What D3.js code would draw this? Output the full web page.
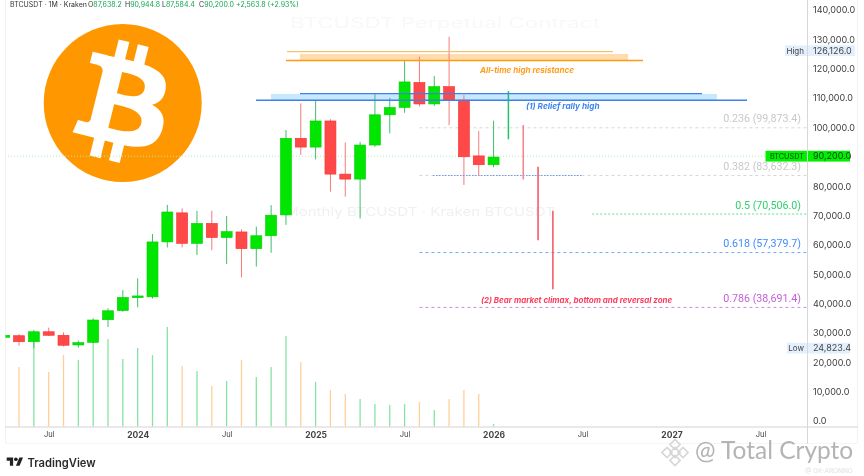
<!DOCTYPE html>
<html>
<head>
<meta charset="utf-8">
<title>BTCUSDT monthly</title>
<script src="https://d3js.org/d3.v7.min.js"></script>
<style>
  html, body { margin: 0; padding: 0; background: #fff; }
  svg { display: block; font-family: Inter, "Noto Sans", sans-serif; filter: blur(0.35px); }
  .axis path, .axis line { display: none; }
</style>
</head>
<body>
<div id="chart"></div>
<script>
// Monthly candles, April 2023 to January 2026 (index 0 = Apr 2023)
var opens  = [28500,29050,27000,30400,29200,25900,26800,34500,37600,42000,42300,61000,70900,60500,67300,62500,64400,58700,63100,70200,96300,93300,102200,84100,82400,94000,104300,106800,115300,108000,113900,109300,90300,87300];
var highs  = [29800,29600,31000,31800,30200,27400,35000,38400,44600,48600,63700,73600,72400,71600,71600,69800,65300,66200,73500,99100,108200,109100,102800,94900,95100,111600,110100,123000,124100,117500,130900,111000,98800,102300];
var lows   = [27500,25650,24800,29000,25400,25000,26500,32000,37200,38700,41700,59100,59100,56500,58200,53500,48900,52600,57300,66800,90600,89100,78100,76400,69000,93400,98000,105000,107100,107300,100800,80400,83600,86400];
var closes = [29200,27000,30400,29200,25800,26700,34400,37550,42100,42600,61000,71200,60500,67300,62500,64500,58700,63100,70100,96300,93300,102200,84100,82400,94000,104300,106800,115500,108000,113900,109300,90000,87300,89900];
var volumes = [60,60,88,55,72,67,88,88,68,79,72,100,61,56,41,46,67,50,60,91,65,45,37,33,28,23,22,23,25,17,28,37,33,3];

// Projected path drawn after the last candle
var projIndex = [34,35,36,37];
var projHigh  = [112400,100800,86600,71600];
var projLow   = [96000,82300,61600,44900];

// Axes
var priceTicks = [0,10000,20000,30000,40000,50000,60000,70000,80000,90000,100000,110000,120000,130000,140000];
var timeTicks  = [3,9,15,21,27,33,39,45,51];
var timeLabels = ["Jul","2024","Jul","2025","Jul","2026","Jul","2027","Jul"];
var yearLabels = ["2024","2025","2026","2027"];

// Fibonacci levels
var fibPrices = [99873.4,83632.3,70506.0,57379.7,38691.4];
var fibLabels = ["0.236 (99,873.4)","0.382 (83,632.3)","0.5 (70,506.0)","0.618 (57,379.7)","0.786 (38,691.4)"];
var fibColors = ["#c9c9c9","#c9c9c9","#2fd16f","#3f8cff","#c45fd8"];

var high = 126126.0, low = 24823.4, last = 90200.0;

var width = 864, height = 476;
var green = "#00e600", red = "#ff4848";

var svg = d3.select("#chart").append("svg")
    .attr("width", width)
    .attr("height", height);

var x = d3.scaleLinear().domain([0, 51]).range([4.2, 760.5]);
var y = d3.scaleLinear().domain([0, 140000]).range([421, 10]);
var vol = d3.scaleLinear().domain([0, 100]).range([427, 327]);
var fmt = d3.format(",.1f");

svg.append("clipPath").attr("id", "pane")
    .append("rect").attr("x", 5.5).attr("y", 0).attr("width", 802).attr("height", 427);

// Logo sits behind everything
var logo = svg.append("g");
logo.append("circle").attr("cx", 122.7).attr("cy", 103).attr("r", 79).attr("fill", "#ff9800");
logo.append("path")
    .attr("transform", "translate(122.7,103) scale(3.05) translate(-32,-32)")
    .attr("fill", "#fff")
    .attr("d", "M46.11 27.441c.636-4.258-2.606-6.547-7.039-8.074l1.438-5.768-3.512-.875-1.4 5.616c-.922-.23-1.87-.447-2.812-.662l1.41-5.653-3.509-.875-1.439 5.766c-.764-.174-1.514-.346-2.242-.527l.004-.018-4.842-1.209-.934 3.75s2.605.597 2.55.634c1.422.355 1.68 1.296 1.636 2.042l-1.638 6.571c.098.025.225.061.365.117l-.37-.092-2.297 9.205c-.174.432-.615 1.08-1.609.834.035.051-2.552-.637-2.552-.637l-1.743 4.02 4.57 1.139c.85.213 1.683.436 2.502.646l-1.453 5.835 3.507.875 1.44-5.772c.957.26 1.887.5 2.797.726L27.504 50.8l3.511.875 1.453-5.823c5.987 1.133 10.49.676 12.383-4.738 1.527-4.36-.075-6.875-3.225-8.516 2.294-.531 4.022-2.04 4.483-5.157zM38.087 38.69c-1.086 4.36-8.426 2.004-10.807 1.412l1.928-7.729c2.38.594 10.011 1.77 8.88 6.317zm1.085-11.312c-.99 3.966-7.1 1.951-9.083 1.457l1.748-7.01c1.983.494 8.367 1.416 7.335 5.553z");

// Pane frame
svg.append("line").attr("x1", 5.5).attr("x2", 5.5).attr("y1", 0).attr("y2", 443).attr("stroke", "#f2f2f2");
svg.append("line").attr("x1", 857.5).attr("x2", 857.5).attr("y1", 0).attr("y2", 443).attr("stroke", "#f2f2f2");
svg.append("line").attr("x1", 5).attr("x2", 858).attr("y1", 443.5).attr("y2", 443.5).attr("stroke", "#f5f5f5");

// Faint ghost watermark behind the candles
svg.append("text").attr("x", 285).attr("y", 216).attr("font-size", 12).attr("fill", "#f0f0f0")
    .attr("textLength", 270).attr("lengthAdjust", "spacingAndGlyphs").text("Monthly BTCUSDT · Kraken BTCUSDT");
svg.append("text").attr("x", 290).attr("y", 28).attr("font-size", 14).attr("fill", "#f8f8f8")
    .attr("textLength", 310).attr("lengthAdjust", "spacingAndGlyphs").text("BTCUSDT Perpetual Contract");

var pane = svg.append("g").attr("clip-path", "url(#pane)");

// Volume
pane.selectAll(".vol").data(volumes).enter().append("line")
    .attr("class", "vol")
    .attr("x1", function(d, i) { return x(i); })
    .attr("x2", function(d, i) { return x(i); })
    .attr("y1", vol(0))
    .attr("y2", function(d) { return vol(d); })
    .attr("stroke-width", 1.3)
    .attr("stroke", function(d, i) { return closes[i] >= opens[i] ? "#86e3a4" : "#ffcf98"; });

// Resistance bands
pane.append("rect").attr("x", 300).attr("width", 328).attr("y", y(125000)).attr("height", y(122800) - y(125000)).attr("fill", "#ffdcae");
pane.append("rect").attr("x", 271).attr("width", 446).attr("y", y(111400)).attr("height", y(109100) - y(111400)).attr("fill", "#c8e9fb");

// Current price line
pane.append("line").attr("x1", 5).attr("x2", 766).attr("y1", y(last)).attr("y2", y(last))
    .attr("stroke", "#a8ecb4").attr("stroke-width", 1).attr("stroke-dasharray", "1 2");

// Fib lines
var fibStart = [28, 28, 39.65, 28, 28];
pane.selectAll(".fib").data(fibPrices).enter().append("line")
    .attr("class", "fib")
    .attr("x1", function(d, i) { return x(fibStart[i]); })
    .attr("x2", 807)
    .attr("y1", function(d) { return y(d); })
    .attr("y2", function(d) { return y(d); })
    .attr("stroke", function(d, i) { return fibColors[i]; })
    .attr("stroke-opacity", 0.75)
    .attr("stroke-dasharray", function(d, i) { return i == 2 ? "2 2" : "3 3"; });
pane.append("line").attr("x1", 433).attr("x2", 583).attr("y1", y(83632.3)).attr("y2", y(83632.3))
    .attr("stroke", "#6a9cf0").attr("stroke-width", 1.2).attr("stroke-dasharray", "1.5 1.5");

svg.selectAll(".fibLabel").data(fibLabels).enter().append("text")
    .attr("class", "fibLabel")
    .attr("x", 801)
    .attr("y", function(d, i) { return y(fibPrices[i]) - 5.5; })
    .attr("text-anchor", "end")
    .attr("font-size", 10.7)
    .attr("font-family", "Roboto")
    .attr("fill", function(d, i) { return fibColors[i]; })
    .text(function(d) { return d; });

// Wicks and bodies
var idx = d3.range(opens.length);
pane.selectAll(".wick").data(idx).enter().append("line")
    .attr("class", "wick")
    .attr("x1", function(i) { return x(i); })
    .attr("x2", function(i) { return x(i); })
    .attr("y1", function(i) { return y(highs[i]); })
    .attr("y2", function(i) { return y(lows[i]); })
    .attr("stroke-width", 1)
    .attr("stroke", function(i) { return closes[i] >= opens[i] ? "#3fbf6a" : "#f77a7a"; });
pane.selectAll(".body").data(idx).enter().append("rect")
    .attr("class", "body")
    .attr("x", function(i) { return x(i) - 5.5; })
    .attr("width", 11)
    .attr("y", function(i) { return y(Math.max(opens[i], closes[i])); })
    .attr("height", function(i) { return Math.max(1, Math.abs(y(opens[i]) - y(closes[i]))); })
    .attr("fill", function(i) { return closes[i] >= opens[i] ? green : red; })
    .attr("stroke", function(i) { return closes[i] >= opens[i] ? "#00d000" : "#f83030"; })
    .attr("stroke-width", 0.6);

// Projected bars
pane.selectAll(".proj").data(projIndex).enter().append("line")
    .attr("class", "proj")
    .attr("x1", function(d) { return x(d); })
    .attr("x2", function(d) { return x(d); })
    .attr("y1", function(d, i) { return y(projHigh[i]); })
    .attr("y2", function(d, i) { return y(projLow[i]); })
    .attr("stroke-width", 1.5)
    .attr("stroke", function(d, i) { return i == 0 ? "#1fc463" : i == 1 ? "#f8808a" : "#f4525f"; });

// Resistance lines on top of the candles
pane.append("line").attr("x1", 286).attr("x2", 643).attr("y1", y(122800)).attr("y2", y(122800)).attr("stroke", "#ff9a12").attr("stroke-width", 1.6);
pane.append("line").attr("x1", 287).attr("x2", 613).attr("y1", y(125800)).attr("y2", y(125800)).attr("stroke", "#f7b24c").attr("stroke-width", 1);
pane.append("line").attr("x1", 256).attr("x2", 747).attr("y1", y(109300)).attr("y2", y(109300)).attr("stroke", "#3f7fee").attr("stroke-width", 1.5);
pane.append("line").attr("x1", 300).attr("x2", 702).attr("y1", y(111500)).attr("y2", y(111500)).attr("stroke", "#3f7fee").attr("stroke-width", 1.2);

// Notes
function note(px, py, str, colour, size) {
    svg.append("text").attr("x", px).attr("y", py)
        .attr("font-size", size).attr("font-weight", 700).attr("font-style", "italic")
        .attr("fill", colour).text(str);
}
note(480, 72.5, "All-time high resistance", "#ff9d1e", 8.05);
note(526, 109, "(1) Relief rally high", "#3d84f0", 8.2);
note(481, 303, "(2) Bear market climax, bottom and reversal zone", "#ff3b5c", 7.95);

// Axes
svg.append("line").attr("x1", 5).attr("x2", 858).attr("y1", 427).attr("y2", 427).attr("stroke", "#e2e2e2").attr("stroke-width", 1.5);
svg.append("line").attr("x1", 807.5).attr("x2", 807.5).attr("y1", 0).attr("y2", 444).attr("stroke", "#d8d8d8");

svg.append("g").attr("class", "axis")
    .attr("transform", "translate(807,0)")
    .call(d3.axisRight(y).tickValues(priceTicks).tickFormat(fmt).tickSize(0).tickPadding(6))
    .selectAll("text").attr("font-size", 9).attr("font-family", "Inter").attr("fill", "#3c3c3c");

var xAxis = svg.append("g").attr("class", "axis")
    .attr("transform", "translate(0,430)")
    .call(d3.axisBottom(x).tickValues(timeTicks).tickFormat(function(d) { return timeLabels[timeTicks.indexOf(d)]; }).tickSize(0).tickPadding(2));
xAxis.selectAll("text")
    .attr("font-size", function(d, i) { return yearLabels.indexOf(timeLabels[i]) >= 0 ? 8.5 : 7.5; })
    .attr("font-family", "Inter")
    .attr("font-weight", function(d, i) { return yearLabels.indexOf(timeLabels[i]) >= 0 ? 700 : 400; })
    .attr("fill", "#444");

// Price tags
function tag(x0, x1, value, name, fill, ink, size) {
    svg.append("rect").attr("x", x0).attr("width", x1 - x0).attr("y", y(value) - 5.4).attr("height", 10.8).attr("fill", fill);
    svg.append("line").attr("x1", 807.5).attr("x2", 807.5).attr("y1", y(value) - 5.4).attr("y2", y(value) + 5.4).attr("stroke", "#d8d8d8");
    svg.append("text").attr("x", 804).attr("y", y(value) + 3.2).attr("text-anchor", "end").attr("font-size", size).attr("fill", ink).text(name);
    svg.append("text").attr("x", 813).attr("y", y(value) + 3.2).attr("font-size", 9).attr("fill", ink).text(fmt(value));
}
tag(785, 855, high, "High", "#e3effc", "#444", 8);
tag(787, 850, low, "Low", "#e3effc", "#444", 8);
tag(765.5, 850, last, "BTCUSDT", "#00f000", "#0a3a12", 7.3);

// Header
var header = svg.append("text").attr("y", 7).attr("font-size", 7).attr("fill", "#333");
header.append("tspan").attr("x", 10).text("BTCUSDT · 1M · Kraken");
header.append("tspan").attr("x", 88).text("O");
header.append("tspan").attr("fill", "#12a84e").text("87,638.2");
header.append("tspan").attr("x", 125).text("H");
header.append("tspan").attr("fill", "#12a84e").text("90,944.8");
header.append("tspan").attr("x", 162).text("L");
header.append("tspan").attr("fill", "#12a84e").text("87,584.4");
header.append("tspan").attr("x", 199).text("C");
header.append("tspan").attr("fill", "#12a84e").text("90,200.0");
header.append("tspan").attr("x", 236).attr("fill", "#12a84e").text("+2,563.8 (+2.93%)");

// TradingView mark
var tv = svg.append("g").attr("transform", "translate(6.7,455.6) scale(0.46)").attr("fill", "#222");
tv.append("path").attr("d", "M14 22H7V11H0V4h14v18zM28 22h-8l7.5-18h8L28 22z");
tv.append("circle").attr("cx", 20).attr("cy", 8).attr("r", 4);
svg.append("text").attr("x", 27.5).attr("y", 466.5).attr("font-size", 11.2).attr("font-weight", 600).attr("fill", "#2a2a2a").text("TradingView");

// Binance watermark
var mark = svg.append("g").attr("transform", "translate(675,452.5)")
    .attr("fill", "none").attr("stroke", "#d6d6d6").attr("stroke-width", 1.6);
[[0,-8],[0,8],[-8,0],[8,0],[0,0]].forEach(function(p) {
    mark.append("rect").attr("x", -3.6).attr("y", -3.6).attr("width", 7.2).attr("height", 7.2)
        .attr("transform", "translate(" + p[0] + "," + p[1] + ") rotate(45)");
});
svg.append("text").attr("x", 695).attr("y", 459).attr("font-size", 24.5).attr("font-family", "Lato").attr("fill", "#b4b4b4")
    .text("@ Total Crypto");
svg.append("text").attr("x", 805).attr("y", 473).attr("font-size", 6.5).attr("fill", "#dedede").text("@ GK-ARONNO");
</script>
</body>
</html>
